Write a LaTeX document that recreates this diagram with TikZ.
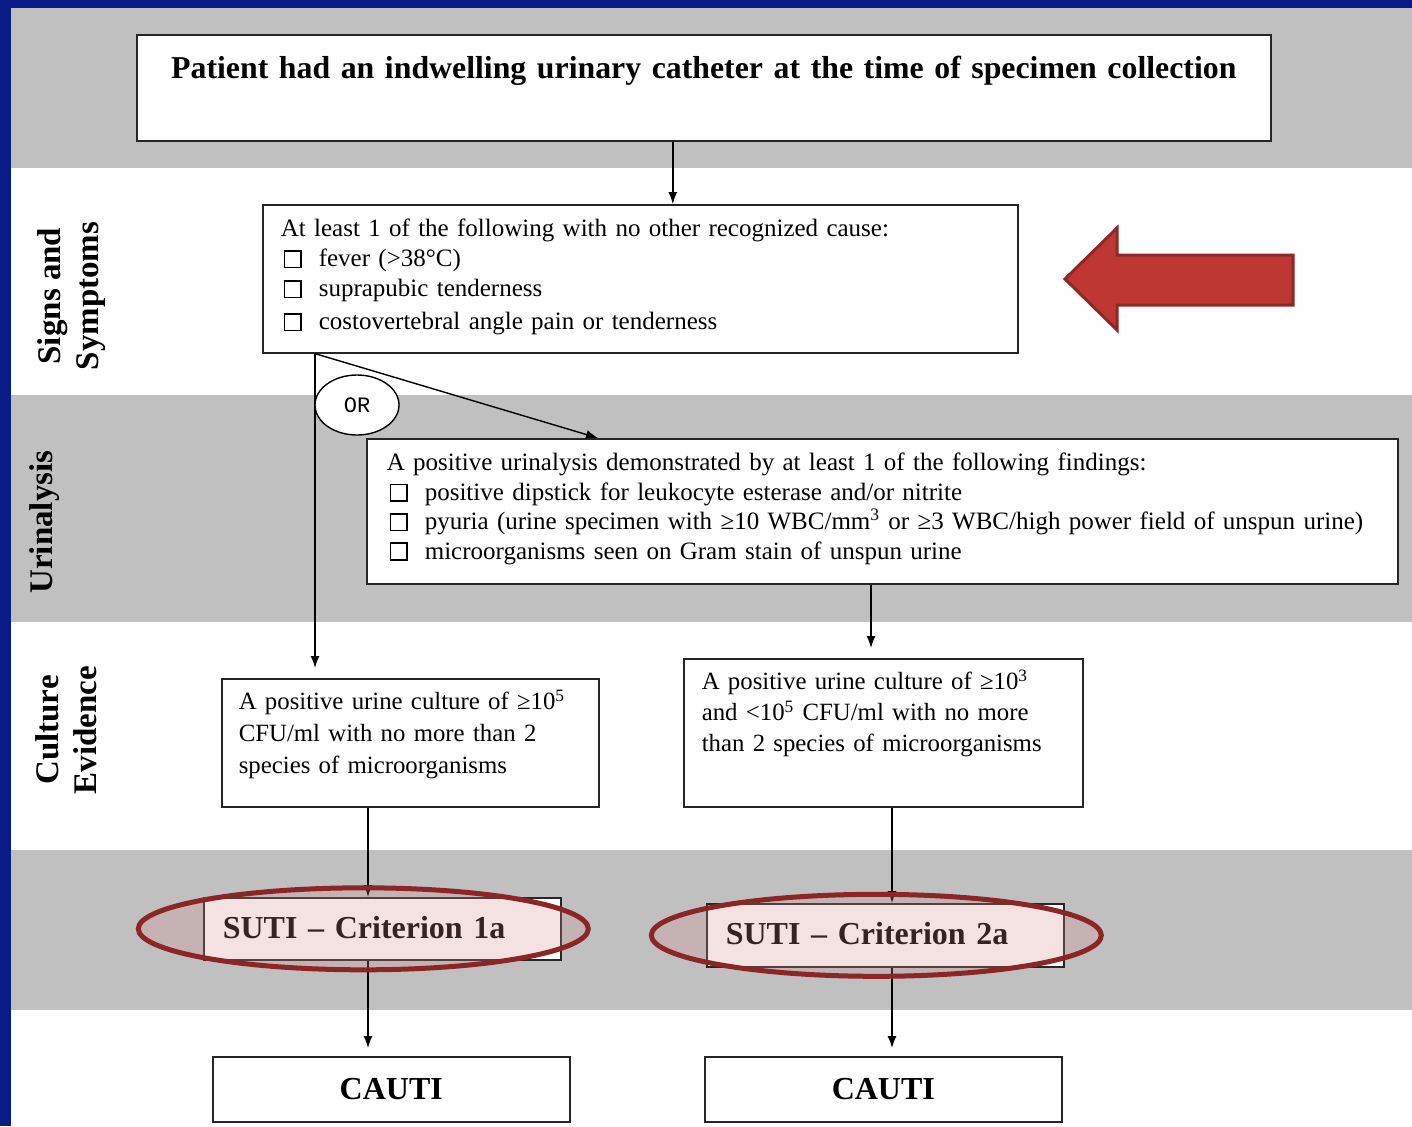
\documentclass[tikz,border=0pt]{standalone}
\usepackage{fontspec}
\setmainfont{Liberation Serif}
\setmonofont{Liberation Mono}
\usepackage{xcolor}
\usepackage{tikz}
\usetikzlibrary{shapes,arrows,arrows.meta,positioning,calc,shapes.geometric}

\definecolor{bandgray}{RGB}{192,192,192}
\definecolor{slideblue}{RGB}{10,26,135}
\definecolor{arrowred}{RGB}{190,55,50}
\definecolor{arrowedge}{RGB}{140,40,40}
\definecolor{ringred}{RGB}{140,38,38}
\definecolor{ringfill}{RGB}{215,140,140}

\newcommand{\tickbox}{\makebox[19pt][l]{\hspace{1.5pt}{\setlength{\fboxsep}{0pt}\setlength{\fboxrule}{0.8pt}\fbox{\rule{0pt}{7.5pt}\rule{7.5pt}{0pt}}}}}

\begin{document}
\begin{tikzpicture}[x=0.5pt, y=-0.5pt, >={Latex[length=6pt,width=4.5pt]}]
    \tikzstyle{box} = [draw=black!85, line width=0.8pt, fill=white, anchor=north west, inner ysep=0pt, align=left]
    \tikzstyle{arrow} = [draw, ->, line width=0.7pt]
    \tikzstyle{side} = [rotate=90, align=center, font=\bfseries\fontsize{16.5}{19}\selectfont]
    \tikzstyle{ring} = [ellipse, draw=ringred, line width=2.5pt, fill=ringfill, fill opacity=0.25, minimum width=225pt, minimum height=41pt, inner sep=0pt]
    \tikzstyle{orbubble} = [ellipse, draw, line width=0.7pt, fill=white, minimum width=42pt, minimum height=30pt, inner sep=0pt, font=\ttfamily\fontsize{11}{13}\selectfont]

    \useasboundingbox (0,0) rectangle (1412,1126);

    % slide background
    \fill[white] (0,0) rectangle (1412,1126);
    \fill[bandgray] (11,8) rectangle (1412,168);
    \fill[bandgray] (11,395) rectangle (1412,622);
    \fill[bandgray] (11,850) rectangle (1412,1010);
    \fill[slideblue] (0,0) rectangle (11,1126);
    \fill[slideblue] (0,0) rectangle (1412,8);

    % row labels
    \node [side] (lblsigns) at (72,296) {Signs and\\Symptoms};
    \node [side] (lblurin) at (45,522) {Urinalysis};
    \node [side] (lblcult) at (66,730) {Culture\\Evidence};

    % boxes
    \node [box, inner xsep=0pt, text width=567pt, align=center, text height=22pt, text depth=31pt, font=\bfseries\fontsize{15.9}{18}\selectfont] (cath) at (136,34)
        {Patient had an indwelling urinary catheter at the time of specimen collection};
    \node [box, inner xsep=9pt, text width=359.5pt, text height=16pt, text depth=58pt, font=\fontsize{12.5}{15}\selectfont] (signs) at (262,204)
        {At least 1 of the following with no other recognized cause:\\
         \tickbox fever (>38°C)\\
         \tickbox suprapubic tenderness\\[1.5pt]
         \tickbox costovertebral angle pain or tenderness};
    \node [box, inner xsep=10pt, text width=495.5pt, text height=16pt, text depth=56.5pt, font=\fontsize{12.5}{14.7}\selectfont] (urin) at (366,438)
        {A positive urinalysis demonstrated by at least 1 of the following findings:\\
         \tickbox positive dipstick for leukocyte esterase and/or nitrite\\
         \tickbox pyuria (urine specimen with ≥10 WBC/mm\textsuperscript{3} or ≥3 WBC/high power field of unspun urine)\\
         \tickbox microorganisms seen on Gram stain of unspun urine};
    \node [box, inner xsep=8.5pt, text width=171.5pt, text height=15.5pt, text depth=48.5pt, font=\fontsize{12.4}{16}\selectfont] (cult1) at (221,678)
        {A positive urine culture of ≥10\textsuperscript{5}\\
         CFU/ml with no more than 2\\
         species of microorganisms};
    \node [box, inner xsep=9pt, text width=181.5pt, text height=15.5pt, text depth=58.5pt, font=\fontsize{12.4}{15.5}\selectfont] (cult2) at (683,658)
        {A positive urine culture of ≥10\textsuperscript{3}\\
         and <10\textsuperscript{5} CFU/ml with no more\\
         than 2 species of microorganisms};
    \node [box, inner xsep=9.5pt, text width=159.5pt, text height=20.5pt, text depth=10.5pt, font=\bfseries\fontsize{16}{19}\selectfont] (suti1) at (203,897)
        {SUTI – Criterion 1a};
    \node [box, inner xsep=9.5pt, text width=159.5pt, text height=20.5pt, text depth=11pt, font=\bfseries\fontsize{16}{19}\selectfont] (suti2) at (706,903)
        {SUTI – Criterion 2a};
    \node [box, inner xsep=0pt, text width=178.5pt, align=center, text height=21.5pt, text depth=11pt, font=\bfseries\fontsize{16}{19}\selectfont] (cauti1) at (212,1056) {CAUTI};
    \node [box, inner xsep=0pt, text width=178.5pt, align=center, text height=21.5pt, text depth=11pt, font=\bfseries\fontsize{16}{19}\selectfont] (cauti2) at (704,1056) {CAUTI};

    % connectors
    \coordinate (c0) at ($(cath.south)+(-31,0)$);
    \coordinate (split) at ($(signs.south west)+(53,0)$);
    \coordinate (u0) at ($(urin.south west)+(505,0)$);
    \coordinate (k1) at ($(cult1.south west)+(147,0)$);
    \coordinate (k2) at ($(cult2.south west)+(209,0)$);

    \draw [arrow] (c0) -- (c0 |- signs.north);
    \draw [arrow, shorten >=5pt] (split) -- (split |- cult1.north);
    \draw [arrow] (split) -- ($(urin.north west)+(232,0)$);
    \draw [arrow, shorten >=5pt] (u0) -- (u0 |- cult2.north);
    \draw [arrow] (k1) -- (k1 |- suti1.north);
    \draw [arrow] (k2) -- (k2 |- suti2.north);
    \draw [arrow, shorten >=4pt] (k1 |- suti1.south) -- (k1 |- cauti1.north);
    \draw [arrow, shorten >=4pt] (k2 |- suti2.south) -- (k2 |- cauti2.north);

    \node [orbubble] (or) at (357,405) {OR};

    % highlights
    \node [ring] (ring1) at ($(suti1.center)+(-19,0)$) {};
    \node [ring] (ring2) at ($(suti2.center)+(-9,0)$) {};
    \draw [arrowedge, fill=arrowred, line width=1.5pt, line join=miter]
        (1065,279) -- (1117,228) -- (1117,255) -- (1293,255) -- (1293,305) -- (1117,305) -- (1117,330) -- cycle;
\end{tikzpicture}
\end{document}
